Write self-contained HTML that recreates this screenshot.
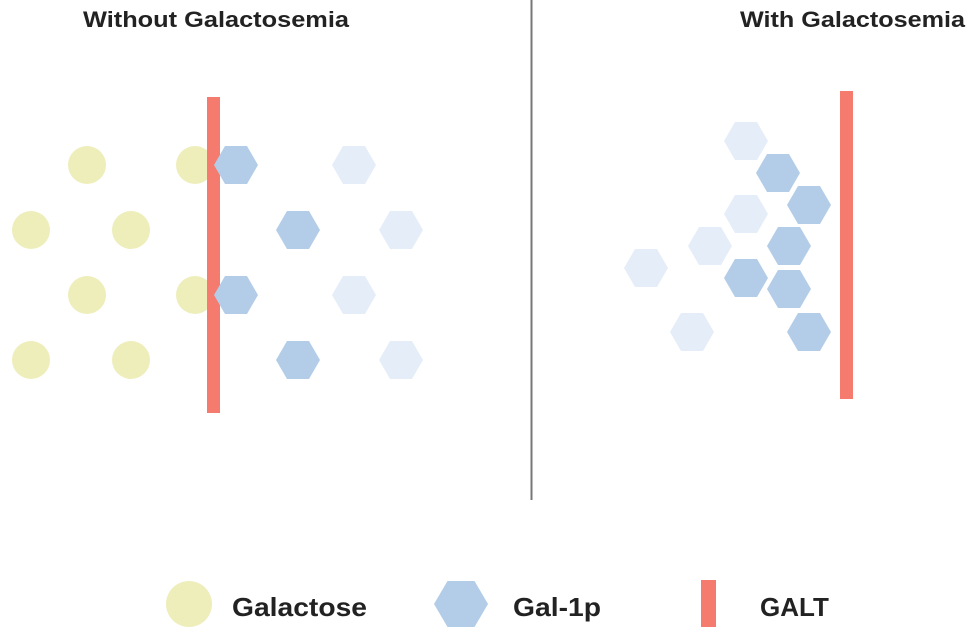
<!DOCTYPE html>
<html><head><meta charset="utf-8"><style>
html,body{margin:0;padding:0;background:#fff;}
svg{display:block;font-family:"Liberation Sans","DejaVu Sans",sans-serif;}
</style></head><body>
<svg id="s" width="967" height="644" viewBox="0 0 967 644">
<text x="83" y="27" font-size="22" font-weight="bold" fill="#222" textLength="266" lengthAdjust="spacingAndGlyphs">Without Galactosemia</text>
<text x="740" y="27" font-size="22" font-weight="bold" fill="#222" textLength="225" lengthAdjust="spacingAndGlyphs">With Galactosemia</text>
<line x1="531.5" y1="0" x2="531.5" y2="500" stroke="#777" stroke-width="2"/>
<g id="marks"></g>
<circle cx="189" cy="604" r="23" fill="#eeeebb"/>
<text x="232" y="616" font-size="26" font-weight="bold" fill="#222" textLength="135" lengthAdjust="spacingAndGlyphs">Galactose</text>
<polygon points="434,604 447.5,581 474.5,581 488,604 474.5,627 447.5,627" fill="#b3cde8"/>
<text x="513" y="616" font-size="26" font-weight="bold" fill="#222" textLength="88" lengthAdjust="spacingAndGlyphs">Gal-1p</text>
<rect x="701" y="580" width="15" height="47" fill="#f47b6e"/>
<text x="760" y="616" font-size="26" font-weight="bold" fill="#222">GALT</text>
</svg>
<script>
const circlesX=[87,195,31,131,87,195,31,131];
const circlesY=[165,165,230,230,295,295,360,360];
const hexX=[236,298,236,298,354,401,354,401,746,778,809,746,789,710,646,746,789,692,809];
const hexY=[165,230,295,360,165,230,295,360,141,173,205,214,246,246,268,278,289,332,332];
const hexDark=[1,1,1,1,0,0,0,0,0,1,1,0,1,0,0,1,1,0,1];
const bars=[[207,97,413],[840,91,399]];
const g=document.getElementById('marks');
const NS='http://www.w3.org/2000/svg';
circlesX.forEach((x,i)=>{
 const c=document.createElementNS(NS,'circle');
 c.setAttribute('cx',x);c.setAttribute('cy',circlesY[i]);c.setAttribute('r',19);c.setAttribute('fill','#eeeebb');
 
 
 g.appendChild(c);
});
bars.forEach(b=>{
 const r=document.createElementNS(NS,'rect');
 r.setAttribute('x',b[0]);r.setAttribute('y',b[1]);r.setAttribute('width',13);r.setAttribute('height',b[2]-b[1]);r.setAttribute('fill','#f47b6e');
 
 
 g.appendChild(r);
});
hexX.forEach((x,i)=>{
 const y=hexY[i],w=22,h=19;
 const p=document.createElementNS(NS,'polygon');
 p.setAttribute('points',`${x-w},${y} ${x-w/2},${y-h} ${x+w/2},${y-h} ${x+w},${y} ${x+w/2},${y+h} ${x-w/2},${y+h}`);
 p.setAttribute('fill',hexDark[i]?'#b3cde8':'#e5eef8');
 
 
 g.appendChild(p);
});
</script>
</body></html>
